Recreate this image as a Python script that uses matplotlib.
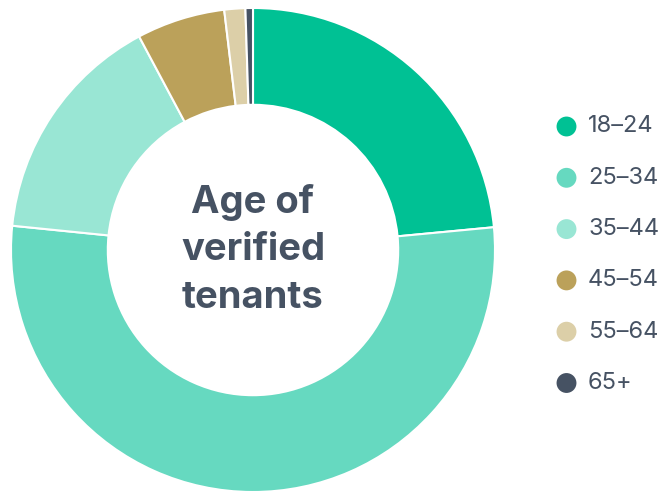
import matplotlib
matplotlib.use("Agg")
import matplotlib.pyplot as plt

# age bands and share of verified tenants (%)
AGE_BANDS = ["18–24", "25–34", "35–44", "45–54", "55–64", "65+"]
SHARES = [23.5, 53.1, 15.6, 5.9, 1.4, 0.5]
COLORS = ["#00c194", "#66d9c0", "#99e6d4", "#bba15a", "#dccfa8", "#465263"]
TITLE = "Age of\nverified\ntenants"
TEXT_COLOR = "#465263"

W, H = 664, 493
fig = plt.figure(figsize=(W / 100, H / 100), dpi=100)
fig.patch.set_facecolor("white")

# donut centred at (253, 250) px, outer radius 242 px
cx, cy, r = 253, 250, 242
ax = fig.add_axes([(cx - r) / W, (H - cy - r) / H, 2 * r / W, 2 * r / H])
ax.pie(SHARES, colors=COLORS, startangle=90, counterclock=False, radius=1.0,
       wedgeprops=dict(width=0.4, edgecolor="white", linewidth=1.5))
ax.set_xlim(-1, 1)
ax.set_ylim(-1, 1)
ax.set_aspect("equal")
ax.axis("off")

ax.text(0, 0, TITLE, ha="center", va="center", fontsize=27.5, fontweight="bold",
        family=["Inter", "DejaVu Sans"], color=TEXT_COLOR, linespacing=1.4)

# legend drawn in pixel coordinates on an overlay axes
lax = fig.add_axes([0, 0, 1, 1])
lax.set_xlim(0, W)
lax.set_ylim(H, 0)
lax.axis("off")
for i, (band, col) in enumerate(zip(AGE_BANDS, COLORS)):
    y = 126.5 + 51.3 * i
    lax.scatter([566.5], [y], s=205, color=col, edgecolors="none")
    lax.text(588, y, band, ha="left", va="center", fontsize=17,
             family=["Inter", "DejaVu Sans"], color=TEXT_COLOR)

fig.savefig("out.png", dpi=100)
